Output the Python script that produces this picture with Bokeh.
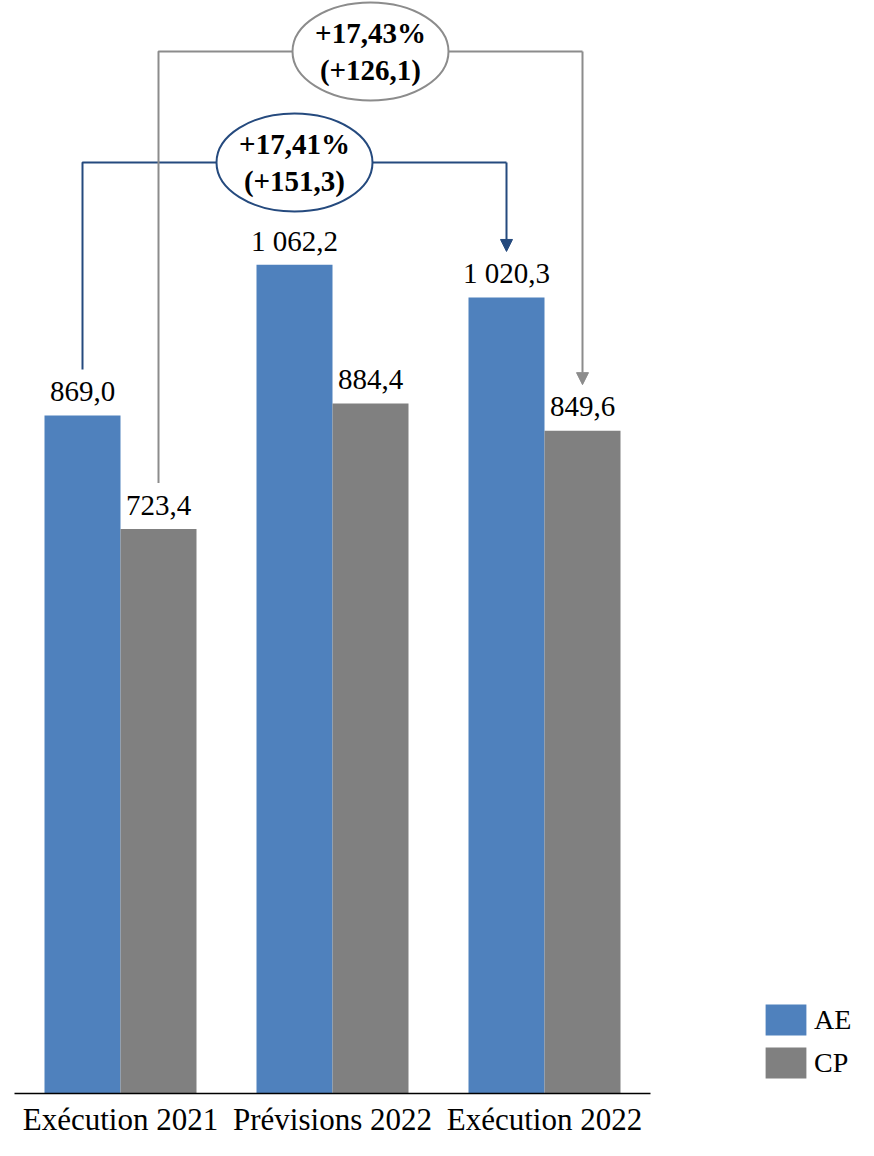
from bokeh.plotting import figure
from bokeh.models import Range1d, Legend, LegendItem, Arrow, NormalHead
from bokeh.core.properties import value
from bokeh.embed import file_html
from bokeh.resources import INLINE

# ---------------- data ----------------
categories = ["Exécution 2021", "Prévisions 2022", "Exécution 2022"]
series = ["AE", "CP"]
ae_values = [869.0, 1062.2, 1020.3]
cp_values = [723.4, 884.4, 849.6]
# evolution annotations (Exécution 2021 -> Exécution 2022)
ae_change = "+17,41%\n(+151,3)"
cp_change = "+17,43%\n(+126,1)"

# ---------------- layout / style ----------------
W, H = 866, 1148
PX_PER_VAL = 0.7802          # pixels per unit of value
ZERO_PX = 1093               # px from top of frame where value 0 sits
UNIT_PX = 212                # px between group centres
LEFT_PX = 120                # px from left edge to first group centre
BAR_W = 76 / UNIT_PX
GAP = 46 / PX_PER_VAL        # connector ends this far above the bar top
AE_LEVEL = (ZERO_PX - 162) / PX_PER_VAL
CP_LEVEL = (ZERO_PX - 51) / PX_PER_VAL

BLUE = "#4F81BD"
GREY = "#808080"
LINE_BLUE = "#254A7E"
LINE_GREY = "#8C8C8C"
FONT = "Liberation Serif"

p = figure(width=W, height=H, output_backend="svg", toolbar_location=None,
           x_axis_type=None, y_axis_type=None, min_border=0,
           x_range=Range1d(-LEFT_PX / UNIT_PX, (W - LEFT_PX) / UNIT_PX),
           y_range=Range1d(-(H - ZERO_PX) / PX_PER_VAL, ZERO_PX / PX_PER_VAL),
           outline_line_color=None, background_fill_color="white")
p.grid.visible = False

idx = list(range(len(categories)))
x_ae = [i - BAR_W / 2 for i in idx]
x_cp = [i + BAR_W / 2 for i in idx]

r_ae = p.vbar(x=x_ae, top=ae_values, bottom=0, width=BAR_W, fill_color=BLUE, line_color=None)
r_cp = p.vbar(x=x_cp, top=cp_values, bottom=0, width=BAR_W, fill_color=GREY, line_color=None)

# baseline
p.segment(x0=[-0.5], y0=[0], x1=[len(categories) - 0.5], y1=[0], line_color="black", line_width=1.3)

def fmt(v):
    return f"{v:,.1f}".replace(",", " ").replace(".", ",")

p.text(x=x_ae + x_cp, y=ae_values + cp_values,
       text=[fmt(v) for v in ae_values + cp_values],
       text_align="center", text_baseline="alphabetic", y_offset=-24,
       text_font=value(FONT), text_font_size="29px", text_color="black")

# category labels
p.text(x=idx, y=[0] * len(idx), text=categories, text_align="center",
       text_baseline="alphabetic", y_offset=26,
       text_font=value(FONT), text_font_size="31px", text_color="black")

# connectors
def connector(xs, vals, level, color, label, ew, eh):
    x0, x1 = xs[0], xs[-1]
    p.line(x=[x0, x0, x1], y=[vals[0] + GAP, level, level], line_color=color, line_width=2)
    p.add_layout(Arrow(end=NormalHead(size=12, fill_color=color, line_color=color),
                       x_start=x1, y_start=level, x_end=x1, y_end=vals[-1] + GAP,
                       line_color=color, line_width=2))
    xm = (x0 + x1) / 2
    p.ellipse(x=[xm], y=[level], width=ew, height=eh, width_units="screen",
              height_units="screen", fill_color="white", line_color=color, line_width=2)
    p.text(x=[xm], y=[level], text=[label], text_align="center", text_baseline="middle",
           text_font=value(FONT), text_font_size="29px", text_font_style="bold",
           text_line_height=1.15, text_color="black")

connector(x_ae, ae_values, AE_LEVEL, LINE_BLUE, ae_change, 156, 98)
connector(x_cp, cp_values, CP_LEVEL, LINE_GREY, cp_change, 156, 98)

legend = Legend(items=[LegendItem(label=series[0], renderers=[r_ae]),
                       LegendItem(label=series[1], renderers=[r_cp])],
                location=(760, H - 1082), orientation="vertical",
                glyph_width=51, glyph_height=39, label_height=39, spacing=4,
                label_standoff=3, padding=0, margin=0,
                border_line_color=None, background_fill_alpha=0,
                label_text_font=FONT, label_text_font_size="28px", label_text_color="black")
p.add_layout(legend)

open("out.html", "w").write(file_html(p, INLINE))
